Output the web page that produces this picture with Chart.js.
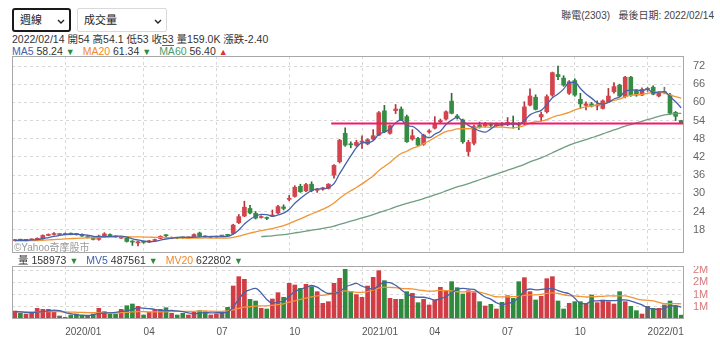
<!DOCTYPE html>
<html>
<head>
<meta charset="utf-8">
<script src="https://cdn.jsdelivr.net/npm/chart.js@4.4.1/dist/chart.umd.min.js"></script>
<style>
    body { margin: 0; background: #fff; font-family: "Liberation Sans", "Noto Sans CJK TC", sans-serif; color: #333; }
    #wrap { position: relative; width: 720px; height: 349px; overflow: hidden; }
    .sel { position: absolute; top: 8px; height: 24px; box-sizing: border-box; background: #fff; font-size: 11px; padding-left: 6px; color: #222; }
    .sel svg { position: absolute; top: 9px; }
    #sel_period { left: 12px; width: 59px; border: 2px solid #1a1a1a; border-radius: 3px; line-height: 20px; }
    #sel_period svg { right: 4px; }
    #sel_sub { left: 77px; width: 90px; border: 1px solid #d9d9d9; border-radius: 2px; line-height: 22px; padding-left: 6px; }
    #sel_sub svg { right: 4px; top: 10px; }
    #stock_info { position: absolute; right: 6px; top: 10px; font-size: 10px; line-height: 12px; color: #444; white-space: pre; }
    .line_info { position: absolute; left: 12px; font-size: 10.5px; line-height: 12px; white-space: nowrap; color: #333; }
    #info_price { top: 33px; }
    #info_ma { top: 45px; }
    #info_volume { left: 18px; top: 254px; }
    .uline { border-bottom: 1.5px solid #f0166e; }
    .gap { display: inline-block; width: 8px; }
    .dn { color: #2e8b3d; font-weight: normal; font-size: 9px; }
    .up { color: #e0303a; font-weight: normal; font-size: 9px; }
    .c_blue { color: #3f62ad; }
    .c_orange { color: #f08a2a; }
    .c_green { color: #4f9a66; }
    #box_main { position: absolute; left: 0; top: 56px; }
    #box_volume { position: absolute; left: 0; top: 266px; }
    #watermark { position: absolute; left: 14px; top: 242px; font-size: 10px; line-height: 12px; color: #9a9a9a; }
</style>
</head>
<body>
<div id="wrap">
    <div class="sel" id="sel_period">週線<svg width="8" height="5"><polyline points="1,1 4,4 7,1" fill="none" stroke="#222" stroke-width="1.4"/></svg></div>
    <div class="sel" id="sel_sub">成交量<svg width="8" height="5"><polyline points="1,1 4,4 7,1" fill="none" stroke="#222" stroke-width="1.4"/></svg></div>
    <div id="stock_info"></div>
    <div class="line_info" id="info_price"></div>
    <div class="line_info" id="info_ma"></div>
    <div id="box_main"><canvas id="chart_main" width="720" height="197"></canvas></div>
    <div id="watermark">©Yahoo奇摩股市</div>
    <div class="line_info" id="info_volume"></div>
    <div id="box_volume"><canvas id="chart_volume" width="720" height="83"></canvas></div>
</div>
<script>
var strStock = '聯電(2303)';
var strLastDate = '2022/02/14';

// weekly candles, oldest first
var arrOpen = [
    14.4, 14.7, 14.5, 14.6, 14.8, 15.0, 16.1, 16.4, 16.4, 16.4,
    16.7, 16.5, 16.4, 15.4, 15.4, 14.8, 16.0, 16.4, 15.9, 15.2,
    15.2, 14.2, 13.6, 14.1, 13.9, 14.4, 15.1, 16.2, 15.1, 15.4,
    15.4, 15.3, 15.6, 16.9, 15.8, 15.4, 15.5, 15.9, 16.2, 16.8,
    20.3, 22.5, 25.0, 23.4, 22.0, 22.0, 22.5, 23.5, 25.5, 28.0,
    29.0, 32.3, 30.8, 33.0, 31.0, 31.5, 31.6, 36.0, 40.4, 49.8,
    46.2, 45.8, 46.9, 46.3, 47.9, 49.2, 57.2, 49.8, 57.3, 57.8,
    55.3, 47.9, 48.1, 46.2, 50.2, 51.5, 53.6, 54.5, 60.4, 55.5,
    54.2, 43.8, 46.5, 52.5, 52.2, 52.8, 52.3, 52.8, 52.6, 53.2,
    52.8, 53.5, 59.1, 61.7, 55.2, 56.9, 62.4, 69.2, 68.0, 63.0,
    67.2, 61.0, 59.0, 59.5, 58.8, 58.0, 60.2, 63.5, 65.7, 61.9,
    68.3, 63.8, 62.4, 64.3, 65.0, 62.1, 63.2, 62.4, 56.7, 54
];
var arrHigh = [
    14.8, 14.9, 14.8, 15.0, 15.3, 16.3, 16.6, 17.0, 16.8, 16.9,
    16.9, 16.8, 16.6, 15.8, 15.6, 16.2, 17.0, 16.6, 16.0, 15.8,
    15.3, 14.4, 14.2, 14.3, 14.5, 14.9, 16.0, 16.4, 15.6, 15.5,
    15.5, 15.6, 16.6, 17.2, 16.0, 15.8, 15.9, 16.1, 16.5, 19.8,
    23.0, 27.4, 26.0, 24.0, 22.6, 22.2, 24.5, 26.0, 26.2, 29.3,
    32.5, 33.0, 33.3, 33.8, 31.6, 32.0, 33.2, 39.5, 47.8, 51.6,
    47.0, 47.5, 49.0, 48.0, 51.0, 57.0, 59.0, 52.5, 59.3, 58.5,
    55.8, 51.0, 48.5, 49.5, 51.0, 55.3, 54.5, 57.2, 63.0, 56.0,
    54.5, 47.5, 52.5, 53.5, 53.4, 53.2, 53.2, 53.3, 55.0, 55.5,
    53.4, 60.2, 64.5, 62.5, 56.8, 62.5, 70.0, 72.0, 68.8, 67.2,
    67.8, 63.0, 60.2, 60.0, 60.5, 60.8, 64.6, 66.5, 66.0, 68.6,
    68.6, 64.2, 64.8, 65.0, 65.5, 63.5, 65.0, 63.0, 57.0, 54.1
];
var arrLow = [
    14.3, 14.4, 14.3, 14.5, 14.7, 14.9, 16.0, 16.2, 16.2, 16.3,
    16.3, 16.2, 15.8, 15.2, 14.6, 14.5, 15.9, 15.9, 15.4, 15.1,
    13.9, 12.8, 12.6, 13.5, 13.7, 14.3, 15.0, 15.7, 15.0, 15.0,
    15.1, 15.1, 15.5, 15.6, 15.4, 15.3, 15.4, 15.6, 15.8, 16.5,
    20.0, 22.3, 23.2, 21.5, 21.8, 21.3, 22.3, 23.3, 24.5, 27.5,
    28.7, 30.3, 30.5, 30.5, 30.3, 31.0, 31.4, 35.0, 40.0, 45.5,
    45.0, 45.5, 44.8, 46.0, 47.5, 49.0, 50.0, 49.5, 56.3, 54.0,
    46.8, 47.5, 45.7, 45.8, 49.8, 51.2, 53.2, 54.2, 56.2, 54.5,
    46.5, 42.3, 46.0, 51.5, 51.8, 52.0, 52.0, 52.2, 52.3, 51.5,
    51.0, 52.5, 58.8, 57.5, 53.8, 56.5, 62.0, 67.5, 65.3, 62.6,
    62.0, 58.0, 57.5, 58.5, 57.5, 57.8, 60.0, 63.0, 61.8, 61.5,
    62.0, 62.0, 62.2, 63.5, 62.5, 61.8, 62.8, 56.0, 54.0, 53
];
var arrClose = [
    14.6, 14.5, 14.6, 14.8, 15.1, 16.1, 16.4, 16.5, 16.4, 16.6,
    16.5, 16.4, 15.9, 15.4, 14.8, 15.9, 16.6, 16.0, 15.6, 15.4,
    14.1, 13.9, 14.0, 13.8, 14.3, 14.7, 15.8, 16.0, 15.3, 15.2,
    15.3, 15.4, 16.4, 15.8, 15.6, 15.5, 15.7, 15.9, 16.1, 19.5,
    22.3, 25.4, 23.5, 21.8, 22.3, 21.7, 22.8, 25.6, 25.0, 28.3,
    32.0, 30.5, 32.9, 30.9, 31.1, 31.6, 33.0, 39.2, 47.5, 45.9,
    46.0, 46.8, 47.2, 47.7, 49.0, 56.6, 50.3, 52.3, 57.8, 54.2,
    47.0, 49.0, 45.9, 49.2, 50.6, 52.8, 54.0, 56.9, 56.4, 55.0,
    47.0, 46.8, 52.0, 52.0, 53.0, 52.4, 52.8, 52.6, 53.4, 52.9,
    52.5, 58.5, 62.1, 57.7, 56.0, 61.9, 69.8, 68.5, 65.7, 66.8,
    62.4, 59.5, 59.5, 58.8, 59.0, 60.5, 62.1, 65.2, 62.1, 68.3,
    62.4, 62.4, 64.3, 64.3, 62.7, 63.2, 63.2, 56.4, 55.4, 53
];

var arrMa5 = [
    14.4, 14.5, 14.5, 14.6, 14.72, 15.02, 15.4, 15.78, 16.1, 16.4,
    16.48, 16.48, 16.36, 16.16, 15.8, 15.68, 15.72, 15.74, 15.78, 15.9,
    15.54, 15.0, 14.6, 14.24, 14.02, 14.14, 14.52, 14.92, 15.22, 15.4,
    15.52, 15.44, 15.52, 15.62, 15.7, 15.74, 15.8, 15.7, 15.76, 16.54,
    17.9, 19.84, 21.36, 22.5, 23.06, 22.94, 22.42, 22.84, 23.48, 24.68,
    26.74, 28.28, 29.74, 30.92, 31.48, 31.4, 31.9, 33.16, 36.48, 39.44,
    42.32, 45.08, 46.68, 46.72, 47.34, 49.46, 50.16, 51.18, 53.2, 54.24,
    52.32, 52.06, 50.78, 49.06, 48.34, 49.5, 50.5, 52.7, 54.14, 55.02,
    53.86, 52.42, 51.44, 50.56, 50.16, 51.24, 52.44, 52.56, 52.84, 52.82,
    52.84, 53.98, 55.88, 56.74, 57.36, 59.24, 61.5, 62.78, 64.38, 66.54,
    66.64, 64.58, 62.78, 61.4, 59.84, 59.46, 59.98, 61.12, 61.78, 63.64,
    64.02, 64.08, 63.9, 64.34, 63.22, 63.38, 63.54, 61.96, 60.18, 58.24
];
var arrMa20 = [
    14.32, 14.33, 14.34, 14.37, 14.4, 14.5, 14.6, 14.71, 14.82, 14.93,
    15.04, 15.15, 15.23, 15.28, 15.31, 15.39, 15.5, 15.59, 15.65, 15.71,
    15.68, 15.65, 15.62, 15.57, 15.53, 15.46, 15.43, 15.41, 15.35, 15.28,
    15.22, 15.17, 15.2, 15.22, 15.26, 15.24, 15.19, 15.19, 15.21, 15.42,
    15.83, 16.4, 16.88, 17.28, 17.68, 18.03, 18.38, 18.86, 19.34, 20.0,
    20.83, 21.59, 22.41, 23.17, 23.94, 24.75, 25.61, 26.78, 28.35, 29.67,
    30.85, 31.92, 33.1, 34.4, 35.74, 37.48, 38.86, 40.19, 41.83, 43.13,
    43.88, 44.8, 45.45, 46.37, 47.34, 48.4, 49.45, 50.34, 50.78, 51.24,
    51.29, 51.29, 51.53, 51.74, 51.94, 51.73, 51.86, 51.87, 51.65, 51.59,
    51.86, 52.34, 53.15, 53.57, 53.84, 54.3, 55.09, 55.67, 56.13, 56.72,
    57.49, 58.13, 58.5, 58.84, 59.14, 59.55, 60.01, 60.64, 61.08, 61.85,
    62.34, 62.54, 62.65, 62.98, 63.31, 63.38, 63.05, 62.44, 61.93, 61.34
];
var arrMa60 = [
    null, null, null, null, null, null, null, null, null, null,
    null, null, null, null, null, null, null, null, null, null,
    null, null, null, null, null, null, null, null, null, null,
    null, null, null, null, null, null, null, null, null, null,
    null, null, null, null, 15.7, 15.83, 15.98, 16.18, 16.37, 16.62,
    16.93, 17.21, 17.53, 17.82, 18.11, 18.41, 18.73, 19.16, 19.72, 20.26,
    20.79, 21.32, 21.87, 22.42, 22.98, 23.66, 24.22, 24.82, 25.51, 26.13,
    26.64, 27.19, 27.69, 28.25, 28.85, 29.46, 30.08, 30.77, 31.45, 32.11,
    32.65, 33.2, 33.84, 34.47, 35.12, 35.75, 36.36, 36.97, 37.61, 38.24,
    38.86, 39.57, 40.34, 41.03, 41.71, 42.48, 43.38, 44.26, 45.09, 45.87,
    46.54, 47.11, 47.71, 48.33, 48.94, 49.59, 50.24, 50.9, 51.52, 52.19,
    52.69, 53.22, 53.75, 54.3, 54.83, 55.36, 55.86, 56.15, 56.27, 56.4
];

// volume in thousands of lots
var arrVolume = [
    328, 232, 205, 232, 437, 396, 396, 342, 123, 68,
    164, 205, 164, 123, 205, 437, 301, 205, 205, 396,
    546, 615, 519, 164, 273, 396, 396, 464, 232, 164,
    232, 164, 273, 342, 301, 164, 205, 273, 478, 1352,
    1735, 1626, 806, 738, 437, 410, 820, 1079, 888, 1462,
    1393, 1257, 1421, 1325, 1120, 642, 710, 1462, 1667, 2036,
    1120, 1000, 888, 1352, 1708, 1981, 1571, 847, 806, 806,
    1120, 1052, 669, 806, 574, 779, 1298, 1148, 1530, 1284,
    1025, 1161, 1079, 710, 533, 601, 410, 683, 956, 847,
    1530, 1694, 1120, 779, 929, 1653, 1735, 738, 410, 642,
    710, 710, 642, 984, 669, 779, 710, 615, 1120, 710,
    519, 342, 205, 519, 437, 437, 574, 738, 530, 158.973
];
var arrMv5 = [
    300, 290, 270, 260, 287, 300, 333, 361, 339, 265,
    219, 180, 145, 145, 172, 227, 246, 254, 271, 309,
    331, 393, 456, 448, 423, 393, 350, 339, 352, 330,
    298, 251, 213, 235, 262, 249, 257, 257, 284, 494,
    809, 1093, 1199, 1251, 1068, 803, 642, 697, 727, 932,
    1128, 1216, 1284, 1372, 1303, 1153, 1044, 1052, 1120, 1303,
    1399, 1457, 1342, 1279, 1214, 1386, 1500, 1492, 1383, 1202,
    1030, 926, 891, 891, 844, 776, 825, 921, 1066, 1208,
    1257, 1230, 1216, 1052, 902, 817, 667, 587, 637, 699,
    885, 1142, 1229, 1194, 1210, 1235, 1243, 1167, 1093, 1036,
    847, 642, 623, 738, 743, 757, 757, 751, 779, 787,
    735, 661, 579, 459, 404, 388, 434, 541, 543, 487.561
];
var arrMv20 = [
    301, 298, 293, 290, 297, 302, 306, 308, 300, 288,
    281, 276, 270, 261, 256, 263, 263, 258, 253, 258,
    269, 288, 304, 301, 292, 292, 292, 298, 304, 309,
    312, 310, 316, 326, 331, 318, 313, 316, 330, 378,
    437, 488, 502, 531, 539, 540, 561, 592, 624, 689,
    747, 802, 859, 909, 949, 973, 999, 1058, 1118, 1152,
    1121, 1090, 1094, 1124, 1188, 1267, 1304, 1293, 1288, 1256,
    1242, 1232, 1194, 1168, 1141, 1148, 1177, 1161, 1155, 1117,
    1112, 1120, 1130, 1098, 1039, 970, 912, 904, 911, 913,
    934, 966, 988, 987, 1005, 1049, 1070, 1050, 994, 962,
    946, 923, 902, 915, 922, 931, 946, 943, 951, 944,
    893, 826, 780, 767, 742, 682, 624, 624, 630, 622.802
];

var arrPriceTicks = [18, 24, 30, 36, 42, 48, 54, 60, 66, 72];
var arrVolumeTicks = [500, 1000, 1500, 2000];
// first week of each quarter and its label
var arrQuarterIdx = [9, 23, 36, 49, 62, 74, 87, 100, 113];
var arrQuarterText = ['2020/01', '04', '07', '10', '2021/01', '04', '07', '10', '2022/01'];
// week where the last-close line starts
var intCloseLineFrom = 57;

var strFont = '"Liberation Sans", "Noto Sans CJK TC", sans-serif';
var intLast = arrClose.length - 1;
var arrWeeks = arrClose.map((v, i) => i);

function candleColor(i, strPart) {
    const diff = arrClose[i] - arrOpen[i];
    if (diff > 0) {
        return strPart === 'fill' ? '#d5444c' : '#b0343b';
    }
    if (diff < 0) {
        return strPart === 'fill' ? '#358c43' : '#2a6e35';
    }
    return '#777';
}

function volumeColor(i) {
    const diff = arrClose[i] - arrOpen[i];
    if (diff > 0) return '#d13d44';
    if (diff < 0) return '#2f8a3e';
    return '#666';
}

// grey frame around the plot area
var framePlugin = {
    id: 'frame',
    afterDraw(chart) {
        const { ctx, chartArea: a } = chart;
        ctx.save();
        ctx.strokeStyle = '#a8a8a8';
        ctx.lineWidth = 1;
        ctx.strokeRect(a.left + 0.5, a.top + 0.5, a.width - 1, a.height - 1);
        ctx.restore();
    }
};

// horizontal line at the last close
var closeLinePlugin = {
    id: 'closeLine',
    afterDatasetsDraw(chart) {
        const { ctx, chartArea: a, scales } = chart;
        const halfBar = scales.x.width / arrClose.length / 2;
        const x0 = scales.x.getPixelForValue(intCloseLineFrom) - halfBar;
        const y = scales.y.getPixelForValue(arrClose[intLast]);
        ctx.save();
        ctx.strokeStyle = '#f5166f';
        ctx.lineWidth = 2;
        ctx.beginPath();
        ctx.moveTo(x0, y);
        ctx.lineTo(a.right, y);
        ctx.stroke();
        ctx.restore();
    }
};

function numText(v) {
    return String(+v.toFixed(2));
}

function arrowHtml(arr) {
    return arr[intLast] < arr[intLast - 1] ? '<b class="dn">▼</b>' : '<b class="up">▲</b>';
}

function fillInfo() {
    const gap = '<span class="gap"></span>';
    document.getElementById('stock_info').textContent = strStock + '   最後日期: ' + strLastDate;
    document.getElementById('info_price').innerHTML =
        `${strLastDate} 開${numText(arrOpen[intLast])} 高${numText(arrHigh[intLast])} 低${numText(arrLow[intLast])} ` +
        `收<span class="uline">${numText(arrClose[intLast])}</span> 量${arrVolume[intLast].toFixed(1)}K ` +
        `漲跌${(arrClose[intLast] - arrClose[intLast - 1]).toFixed(2)}`;
    document.getElementById('info_ma').innerHTML =
        `<span class="c_blue">MA5</span> ${arrMa5[intLast].toFixed(2)} ${arrowHtml(arrMa5)}${gap}` +
        `<span class="c_orange">MA20</span> ${arrMa20[intLast].toFixed(2)} ${arrowHtml(arrMa20)}${gap}` +
        `<span class="c_green">MA60</span> ${arrMa60[intLast].toFixed(2)} ${arrowHtml(arrMa60)}`;
    document.getElementById('info_volume').innerHTML =
        `量 ${Math.round(arrVolume[intLast] * 1000)} ${arrowHtml(arrVolume)}${gap}` +
        `<span class="c_blue">MV5</span> ${Math.round(arrMv5[intLast] * 1000)} ${arrowHtml(arrMv5)}${gap}` +
        `<span class="c_orange">MV20</span> ${Math.round(arrMv20[intLast] * 1000)} ${arrowHtml(arrMv20)}`;
}

function lineSet(strLabel, arrData, strColor) {
    return {
        type: 'line',
        label: strLabel,
        data: arrData,
        borderColor: strColor,
        borderWidth: 1.3,
        pointRadius: 0,
        cubicInterpolationMode: 'monotone',
        order: 0
    };
}

function quarterAxis(blnLabels) {
    return {
        offset: true,
        grid: { offset: false, color: '#d8d8d8', drawTicks: false },
        border: { display: false, dash: [3, 3] },
        ticks: {
            display: blnLabels,
            autoSkip: false,
            maxRotation: 0,
            align: 'start',
            padding: 7,
            color: '#555',
            font: { size: 10, family: strFont },
            callback: (value, index) => arrQuarterText[index]
        },
        afterBuildTicks: s => { s.ticks = arrQuarterIdx.map(v => ({ value: v })); },
        afterFit: s => {
            s.height = blnLabels ? 30 : 0;
            s.paddingLeft = 0;
            s.paddingRight = 0;
        }
    };
}

function priceAxis(numMin, numMax, arrTicks, strColor, fnLabel) {
    return {
        position: 'right',
        min: numMin,
        max: numMax,
        grid: { color: '#d8d8d8', drawTicks: false },
        border: { display: false, dash: [3, 3] },
        ticks: {
            color: strColor,
            padding: 9,
            autoSkip: false,
            font: { size: 11, family: strFont },
            callback: fnLabel
        },
        afterBuildTicks: s => { s.ticks = arrTicks.map(v => ({ value: v })); },
        afterFit: s => {
            s.width = 36;
            s.paddingTop = 0;
            s.paddingBottom = 0;
        }
    };
}

function drawCharts() {
    const ctxMain = document.getElementById('chart_main').getContext('2d');
    new Chart(ctxMain, {
        type: 'bar',
        data: {
            labels: arrWeeks,
            datasets: [
                lineSet('MA5', arrMa5, '#4862a8'),
                lineSet('MA20', arrMa20, '#f29536'),
                lineSet('MA60', arrMa60, '#6f9d80'),
                {
                    label: 'body',
                    data: arrOpen.map((o, i) => [o, arrClose[i]]),
                    backgroundColor: c => candleColor(c.dataIndex, 'fill'),
                    barThickness: 4,
                    minBarLength: 1,
                    grouped: false,
                    order: 1
                },
                {
                    label: 'wick',
                    data: arrLow.map((l, i) => [l, arrHigh[i]]),
                    backgroundColor: c => candleColor(c.dataIndex, 'edge'),
                    barThickness: 1,
                    grouped: false,
                    order: 2
                }
            ]
        },
        options: {
            animation: false,
            responsive: false,
            layout: { padding: { left: 12, top: 0, bottom: 0, right: 0 } },
            plugins: { legend: { display: false }, tooltip: { enabled: false } },
            scales: {
                x: quarterAxis(false),
                y: priceAxis(10.3, 75.3, arrPriceTicks, '#666', v => v)
            }
        },
        plugins: [framePlugin, closeLinePlugin]
    });

    const ctxVolume = document.getElementById('chart_volume').getContext('2d');
    new Chart(ctxVolume, {
        type: 'bar',
        data: {
            labels: arrWeeks,
            datasets: [
                lineSet('MV5', arrMv5, '#4862a8'),
                lineSet('MV20', arrMv20, '#f29536'),
                {
                    label: 'volume',
                    data: arrVolume,
                    backgroundColor: c => volumeColor(c.dataIndex),
                    barThickness: 4,
                    order: 1
                }
            ]
        },
        options: {
            animation: false,
            responsive: false,
            layout: { padding: { left: 12, top: 0, bottom: 0, right: 0 } },
            plugins: { legend: { display: false }, tooltip: { enabled: false } },
            scales: {
                x: quarterAxis(true),
                y: priceAxis(0, 2172, arrVolumeTicks, '#d9777a', v => Math.round(v / 1000) + 'M')
            }
        },
        plugins: [framePlugin]
    });
}

fillInfo();
drawCharts();
</script>
</body>
</html>
